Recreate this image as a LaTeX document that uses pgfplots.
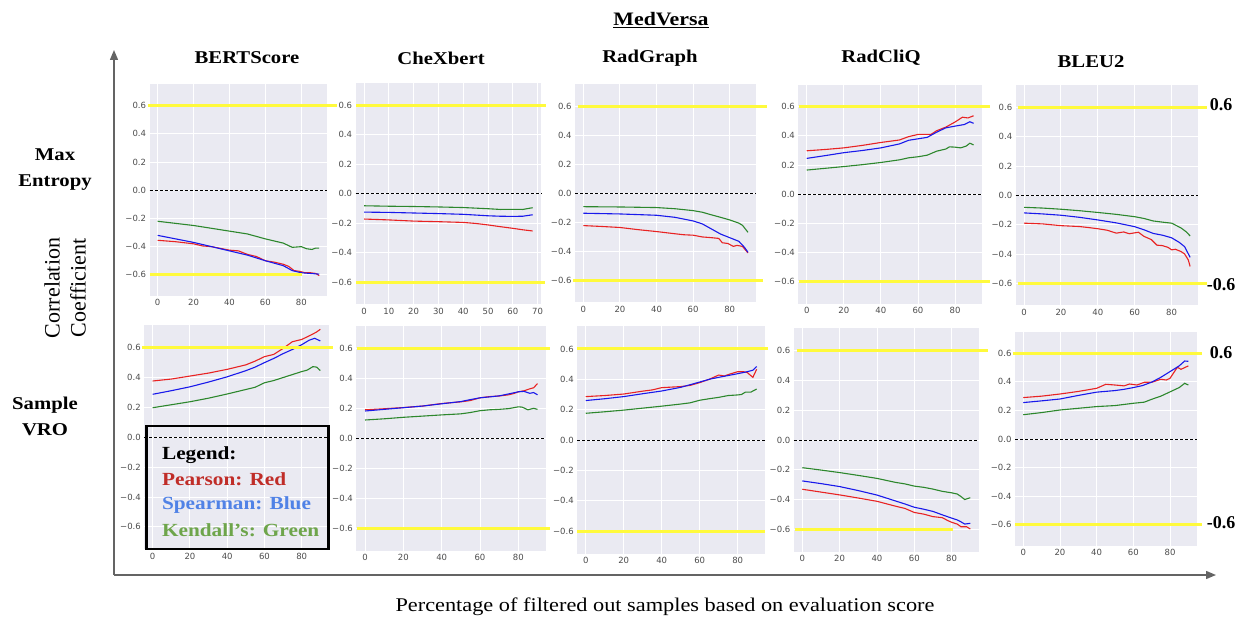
\documentclass[border=0pt]{standalone}
\usepackage{fontspec}
\setmainfont{Liberation Serif}
\newfontfamily\dejavu{DejaVu Sans}
\usepackage{pgfplots}
\pgfplotsset{compat=1.18}
\usetikzlibrary{arrows.meta}

\definecolor{sbgray}{HTML}{EAEAF2}
\definecolor{hlyellow}{RGB}{255,250,60}
\definecolor{pr}{RGB}{232,35,35}
\definecolor{sp}{RGB}{25,25,235}
\definecolor{kd}{RGB}{45,135,45}
\definecolor{lgred}{RGB}{192,45,40}
\definecolor{lgblue}{RGB}{80,130,230}
\definecolor{lggreen}{RGB}{110,165,75}
\definecolor{arrowgray}{RGB}{100,100,100}

\pgfplotsset{
  panel/.style={
    scale only axis, anchor=south west, clip=false,
    axis background/.style={fill=sbgray},
    axis line style={draw=none}, tick style={draw=none},
    grid=major, major grid style={white, line width=0.9pt},
    xmin=-4.5, xmax=94.5, ymin=-0.75, ymax=0.75,
    xtick={0,20,40,60,80}, xticklabels={0,20,40,60,80},
    ytick={-0.6,-0.4,-0.2,0,0.2,0.4,0.6},
    yticklabels={−0.6,−0.4,−0.2,0.0,0.2,0.4,0.6},
    ticklabel style={font=\dejavu\fontsize{8.5}{9}\selectfont, text=black!70},
    every axis plot/.append style={no marks, line width=1.1pt},
  },
  yl/.style={hlyellow, line width=3pt, forget plot},
  zero/.style={black, line width=0.9pt, dash pattern=on 3pt off 2pt, forget plot},
}

\begin{document}
\begin{tikzpicture}
\useasboundingbox (0pt,0pt) rectangle (1238pt,621pt);

% ---------- row 1: Max Entropy ----------
% BERTScore
\begin{axis}[panel, at={(149.6pt,325pt)}, width=177.7pt, height=211.5pt]
\addplot[zero] coordinates {(-4.5,0) (94.5,0)};
\addplot[pr] coordinates {(0,-0.355) (10,-0.365) (20,-0.38) (25,-0.395) (30,-0.40) (40,-0.425) (45,-0.43) (50,-0.455) (55,-0.47) (60,-0.50) (65,-0.51) (70,-0.525) (73,-0.54) (76,-0.57) (79,-0.575) (82,-0.585) (85,-0.585) (88,-0.59) (90,-0.605)};
\addplot[sp] coordinates {(0,-0.32) (10,-0.345) (20,-0.37) (30,-0.40) (40,-0.43) (50,-0.46) (60,-0.50) (70,-0.535) (75,-0.57) (80,-0.585) (85,-0.59) (90,-0.595)};
\addplot[kd] coordinates {(0,-0.22) (10,-0.235) (20,-0.25) (30,-0.27) (40,-0.29) (50,-0.31) (60,-0.345) (65,-0.36) (70,-0.375) (75,-0.405) (80,-0.40) (83,-0.415) (86,-0.42) (88,-0.41) (90,-0.41)};
\addplot[yl] coordinates {(-5.4,0.6) (99.9,0.6)};
\addplot[yl] coordinates {(-4.3,-0.6) (80.4,-0.6)};
\end{axis}

% CheXbert
\begin{axis}[panel, at={(355.6pt,316.8pt)}, width=185.5pt, height=221pt,
  xmin=-3.4, xmax=71.4, xtick={0,10,20,30,40,50,60,70}, xticklabels={0,10,20,30,40,50,60,70}]
\addplot[zero] coordinates {(-3.4,0) (71.4,0)};
\addplot[pr] coordinates {(0,-0.172) (10,-0.178) (20,-0.186) (30,-0.190) (40,-0.195) (45,-0.202) (50,-0.212) (55,-0.224) (60,-0.235) (64,-0.245) (68,-0.253)};
\addplot[sp] coordinates {(0,-0.125) (10,-0.127) (20,-0.131) (30,-0.135) (40,-0.140) (50,-0.150) (55,-0.153) (60,-0.154) (64,-0.153) (68,-0.143)};
\addplot[kd] coordinates {(0,-0.082) (10,-0.085) (20,-0.087) (30,-0.090) (40,-0.094) (50,-0.102) (55,-0.107) (60,-0.106) (64,-0.107) (68,-0.095)};
\addplot[yl] coordinates {(-3.2,0.6) (73.4,0.6)};
\addplot[yl] coordinates {(-3.2,-0.6) (73.0,-0.6)};
\end{axis}

% RadGraph
\begin{axis}[panel, at={(575.1pt,318.6pt)}, width=181.1pt, height=218.2pt]
\addplot[zero] coordinates {(-4.5,0) (94.5,0)};
\addplot[pr] coordinates {(0,-0.222) (10,-0.228) (20,-0.235) (30,-0.25) (40,-0.263) (50,-0.278) (55,-0.285) (60,-0.288) (65,-0.30) (70,-0.305) (74,-0.31) (76,-0.34) (79,-0.345) (82,-0.365) (84,-0.358) (87,-0.365) (90,-0.41)};
\addplot[sp] coordinates {(0,-0.137) (20,-0.142) (40,-0.151) (50,-0.165) (60,-0.19) (65,-0.21) (70,-0.245) (75,-0.28) (80,-0.305) (85,-0.33) (88,-0.37) (90,-0.405)};
\addplot[kd] coordinates {(0,-0.092) (20,-0.094) (40,-0.098) (50,-0.106) (60,-0.119) (65,-0.13) (70,-0.148) (75,-0.165) (80,-0.183) (85,-0.205) (87,-0.22) (90,-0.268)};
\addplot[yl] coordinates {(-2.9,0.6) (100.4,0.6)};
\addplot[yl] coordinates {(-5.6,-0.6) (98.1,-0.6)};
\end{axis}

% RadCliQ
\begin{axis}[panel, at={(798.4pt,317.2pt)}, width=183.5pt, height=219pt]
\addplot[zero] coordinates {(-4.5,0) (94.5,0)};
\addplot[pr] coordinates {(0,0.298) (10,0.307) (20,0.318) (30,0.335) (40,0.355) (50,0.372) (55,0.395) (60,0.41) (63,0.41) (67,0.41) (70,0.435) (75,0.46) (80,0.495) (84,0.528) (87,0.523) (90,0.538)};
\addplot[sp] coordinates {(0,0.246) (10,0.265) (20,0.285) (30,0.30) (40,0.318) (50,0.345) (55,0.37) (60,0.38) (65,0.39) (70,0.425) (75,0.455) (80,0.467) (85,0.478) (88,0.497) (90,0.486)};
\addplot[kd] coordinates {(0,0.166) (10,0.178) (20,0.19) (30,0.203) (40,0.218) (50,0.236) (55,0.25) (60,0.257) (65,0.268) (70,0.295) (75,0.31) (77,0.325) (80,0.323) (83,0.318) (86,0.33) (88,0.35) (90,0.338)};
\addplot[yl] coordinates {(-4.2,0.6) (98.9,0.6)};
\addplot[yl] coordinates {(-4.2,-0.6) (98.9,-0.6)};
\end{axis}

% BLEU2
\begin{axis}[panel, at={(1015.7pt,315.7pt)}, width=182.7pt, height=220pt]
\addplot[zero] coordinates {(-4.5,0) (94.5,0)};
\addplot[pr] coordinates {(0,-0.19) (10,-0.195) (20,-0.207) (30,-0.213) (35,-0.22) (40,-0.228) (45,-0.238) (50,-0.258) (54,-0.25) (57,-0.262) (62,-0.252) (65,-0.28) (69,-0.302) (72,-0.34) (75,-0.343) (78,-0.355) (80,-0.372) (82,-0.368) (85,-0.383) (87,-0.4) (89,-0.44) (90,-0.485)};
\addplot[sp] coordinates {(0,-0.12) (10,-0.127) (20,-0.136) (30,-0.15) (40,-0.168) (50,-0.188) (60,-0.214) (65,-0.235) (70,-0.26) (75,-0.272) (80,-0.29) (84,-0.32) (87,-0.35) (90,-0.423)};
\addplot[kd] coordinates {(0,-0.082) (10,-0.087) (20,-0.095) (30,-0.105) (40,-0.117) (50,-0.13) (60,-0.146) (65,-0.158) (70,-0.175) (75,-0.183) (80,-0.19) (85,-0.222) (88,-0.25) (90,-0.277)};
\addplot[yl] coordinates {(-3.3,0.6) (99.1,0.6)};
\addplot[yl] coordinates {(-3.3,-0.6) (99.1,-0.6)};
\end{axis}

% ---------- row 2: Sample VRO ----------
% BERTScore
\begin{axis}[panel, at={(144.3pt,71.7pt)}, width=184.4pt, height=224pt]
\addplot[zero] coordinates {(-4.5,0) (94.5,0)};
\addplot[pr] coordinates {(0,0.377) (10,0.39) (20,0.41) (30,0.43) (40,0.455) (50,0.485) (55,0.51) (60,0.54) (65,0.555) (70,0.595) (75,0.64) (80,0.655) (85,0.685) (88,0.705) (90,0.723)};
\addplot[sp] coordinates {(0,0.288) (10,0.312) (20,0.338) (30,0.37) (40,0.405) (50,0.446) (55,0.47) (60,0.5) (65,0.528) (70,0.56) (75,0.588) (80,0.62) (84,0.65) (87,0.663) (90,0.645)};
\addplot[kd] coordinates {(0,0.198) (10,0.218) (20,0.238) (30,0.262) (40,0.29) (50,0.32) (55,0.335) (60,0.365) (65,0.38) (70,0.40) (75,0.42) (80,0.44) (83,0.45) (86,0.473) (88,0.47) (90,0.447)};
\addplot[yl] coordinates {(-5.7,0.6) (96.8,0.6)};
\end{axis}

% CheXbert
\begin{axis}[panel, at={(356.4pt,70.2pt)}, width=189.7pt, height=225pt]
\addplot[zero] coordinates {(-4.5,0) (94.5,0)};
\addplot[pr] coordinates {(0,0.19) (10,0.197) (20,0.205) (30,0.215) (40,0.232) (50,0.243) (55,0.252) (60,0.27) (65,0.278) (70,0.282) (75,0.29) (78,0.30) (80,0.31) (83,0.317) (86,0.33) (88,0.337) (90,0.365)};
\addplot[sp] coordinates {(0,0.182) (10,0.193) (20,0.204) (30,0.215) (40,0.23) (50,0.245) (55,0.258) (60,0.27) (65,0.276) (70,0.283) (75,0.296) (80,0.31) (83,0.313) (86,0.30) (88,0.305) (90,0.29)};
\addplot[kd] coordinates {(0,0.122) (10,0.13) (20,0.14) (30,0.148) (40,0.156) (50,0.163) (55,0.172) (60,0.184) (65,0.19) (70,0.193) (75,0.198) (78,0.205) (80,0.21) (82,0.208) (85,0.19) (88,0.2) (90,0.193)};
\addplot[yl] coordinates {(-4.2,0.6) (96.6,0.6)};
\addplot[yl] coordinates {(-4.2,-0.6) (96.6,-0.6)};
\end{axis}

% RadGraph
\begin{axis}[panel, at={(577.2pt,67.2pt)}, width=188pt, height=227.6pt]
\addplot[zero] coordinates {(-4.5,0) (94.5,0)};
\addplot[pr] coordinates {(0,0.286) (10,0.293) (20,0.303) (30,0.322) (35,0.33) (40,0.345) (50,0.352) (55,0.36) (60,0.378) (65,0.40) (70,0.428) (73,0.422) (76,0.435) (80,0.45) (83,0.45) (85,0.445) (88,0.413) (90,0.466)};
\addplot[sp] coordinates {(0,0.26) (10,0.272) (20,0.286) (30,0.305) (40,0.323) (50,0.347) (60,0.382) (65,0.40) (70,0.413) (75,0.425) (80,0.437) (85,0.45) (88,0.46) (90,0.484)};
\addplot[kd] coordinates {(0,0.176) (10,0.186) (20,0.197) (30,0.21) (40,0.223) (50,0.237) (55,0.245) (60,0.262) (65,0.272) (70,0.281) (75,0.293) (80,0.297) (82,0.30) (84,0.315) (87,0.316) (90,0.336)};
\addplot[yl] coordinates {(-4.6,0.6) (95.9,0.6)};
\addplot[yl] coordinates {(-4.6,-0.6) (94.4,-0.6)};
\end{axis}

% RadCliQ
\begin{axis}[panel, at={(793.9pt,69.4pt)}, width=184.8pt, height=223.2pt]
\addplot[zero] coordinates {(-4.5,0) (94.5,0)};
\addplot[pr] coordinates {(0,-0.331) (10,-0.35) (20,-0.369) (30,-0.39) (40,-0.412) (50,-0.445) (55,-0.46) (60,-0.487) (65,-0.498) (70,-0.515) (75,-0.522) (78,-0.542) (80,-0.553) (83,-0.565) (85,-0.583) (88,-0.583) (90,-0.598)};
\addplot[sp] coordinates {(0,-0.275) (10,-0.293) (20,-0.313) (30,-0.34) (40,-0.37) (50,-0.41) (55,-0.43) (60,-0.452) (65,-0.465) (70,-0.48) (75,-0.503) (80,-0.525) (83,-0.537) (85,-0.55) (87,-0.565) (90,-0.56)};
\addplot[kd] coordinates {(0,-0.186) (10,-0.202) (20,-0.219) (30,-0.238) (40,-0.258) (50,-0.285) (55,-0.295) (60,-0.31) (65,-0.318) (70,-0.33) (75,-0.345) (80,-0.355) (83,-0.363) (85,-0.38) (87,-0.4) (90,-0.388)};
\addplot[yl] coordinates {(-2.8,0.6) (99.5,0.6)};
\addplot[yl] coordinates {(-3.9,-0.6) (80.7,-0.6)};
\end{axis}

% BLEU2
\begin{axis}[panel, at={(1015pt,74.9pt)}, width=181.6pt, height=214.2pt]
\addplot[zero] coordinates {(-4.5,0) (94.5,0)};
\addplot[pr] coordinates {(0,0.29) (10,0.30) (20,0.315) (30,0.333) (40,0.355) (45,0.383) (50,0.378) (55,0.372) (58,0.385) (62,0.378) (66,0.397) (70,0.397) (75,0.418) (78,0.413) (80,0.425) (84,0.502) (86,0.488) (90,0.512)};
\addplot[sp] coordinates {(0,0.255) (10,0.267) (20,0.28) (30,0.305) (40,0.328) (50,0.339) (55,0.348) (60,0.36) (65,0.374) (70,0.398) (75,0.432) (80,0.472) (85,0.512) (88,0.546) (90,0.544)};
\addplot[kd] coordinates {(0,0.17) (10,0.185) (20,0.203) (30,0.215) (40,0.227) (50,0.234) (60,0.25) (66,0.258) (70,0.278) (75,0.30) (80,0.33) (85,0.36) (88,0.39) (90,0.378)};
\addplot[yl] coordinates {(-5.6,0.6) (97.4,0.6)};
\addplot[yl] coordinates {(-4.5,-0.6) (97.4,-0.6)};
\end{axis}

% ---------- annotations ----------
\tikzset{stretched/.style={xscale=1.15, transform shape}}
\node[stretched, font=\bfseries\fontsize{19}{22}\selectfont] at (661pt,601pt) {\underline{MedVersa}};
\foreach \t/\x/\y in {BERTScore/247/563, CheXbert/441/563, RadGraph/650/563, RadCliQ/881/563, BLEU2/1091/559}
  \node[stretched, font=\bfseries\fontsize{18}{21}\selectfont] at (\x pt,\y pt) {\t};

\node[stretched, font=\bfseries\fontsize{18}{26}\selectfont, align=center] at (55pt,451pt) {Max\\Entropy};
\node[stretched, font=\bfseries\fontsize{18}{26}\selectfont, align=center] at (45pt,205pt) {Sample\\VRO};
\node[rotate=90, font=\fontsize{22}{26}\selectfont, align=center] at (65pt,333pt) {Correlation\\Coefficient};

\draw[arrowgray, line width=1.4pt, -{Triangle[length=10pt,width=8pt]}] (114pt,46pt) -- (114pt,571pt);
\draw[arrowgray, line width=1.4pt, -{Triangle[length=10pt,width=8pt]}] (114pt,46pt) -- (1216pt,46pt);
\node[stretched, font=\fontsize{19.4}{22}\selectfont] at (665pt,14pt) {Percentage of filtered out samples based on evaluation score};

\foreach \l/\y in {0.6/516, -0.6/336, 0.6/268, -0.6/98}
  \node[font=\bfseries\fontsize{18}{21}\selectfont] at (1221pt,\y pt) {\l};

% legend box
\draw[black, line width=2.5pt] (146.7pt,195pt) rectangle (328.3pt,72pt);
\node[stretched, anchor=west, font=\bfseries\fontsize{18.5}{20}\selectfont] at (158pt,166pt) {Legend:};
\node[stretched, anchor=west, text=lgred, font=\bfseries\fontsize{18.5}{20}\selectfont] at (158pt,142pt) {Pearson: Red};
\node[stretched, anchor=west, text=lgblue, font=\bfseries\fontsize{18.5}{20}\selectfont] at (158pt,116pt) {Spearman: Blue};
\node[stretched, anchor=west, text=lggreen, font=\bfseries\fontsize{18.5}{20}\selectfont] at (158pt,91pt) {Kendall’s: Green};
\end{tikzpicture}
\end{document}
